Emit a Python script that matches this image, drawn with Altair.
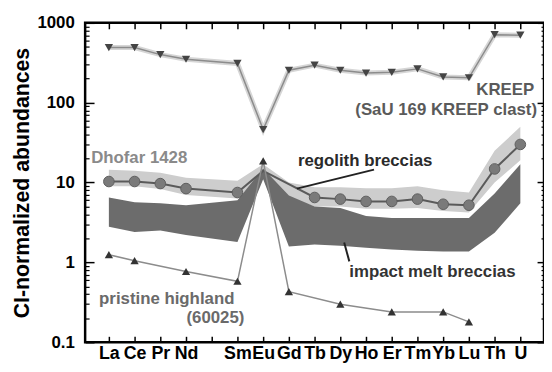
import altair as alt
import pandas as pd

# ---------------- data ----------------
elements = ["La", "Ce", "Pr", "Nd", "Pm", "Sm", "Eu", "Gd", "Tb", "Dy",
            "Ho", "Er", "Tm", "Yb", "Lu", "Th", "U"]
tick_labels = ["La", "Ce", "Pr", "Nd", "", "Sm", "Eu", "Gd", "Tb", "Dy",
               "Ho", "Er", "Tm", "Yb", "Lu", "Th", "U"]

kreep = [490, 490, 400, 350, None, 310, 46, 255, 295, 255, 235, 240, 265, 210, 205, 710, 700]
pristine = [1.25, 1.05, None, 0.77, None, 0.58, 18.7, 0.43, None, 0.30, None, 0.24, None, 0.24, 0.18, None, None]
dhofar = [10.3, 10.3, 9.7, 8.4, None, 7.5, 14.0, None, 6.5, 6.2, 5.8, 5.8, 6.2, 5.35, 5.2, 14.8, 30]
dhofar_no_marker = ["Eu"]

regolith_lo = [9.0, 9.0, 8.3, 7.0, None, 6.3, 13, 6.5, 5.0, 5.0, 4.7, 4.7, 4.8, 4.4, 4.2, 10, 19]
regolith_hi = [14.5, 14, 13.3, 11.5, None, 10.5, 17, 10, 8.7, 8.7, 8.5, 8.5, 9.0, 8.0, 7.5, 25, 50]
impact_lo = [2.8, 2.4, 2.5, 2.2, None, 1.8, 11, 1.58, 1.67, 1.62, 1.53, 1.45, 1.4, 1.37, 1.37, 2.35, 5.5]
impact_hi = [6.5, 5.65, 5.5, 5.2, None, 6.0, 15, 6.9, 5.0, 4.8, 3.8, 3.6, 3.6, 3.6, 3.6, 7.3, 17]

y_major = [0.1, 1, 10, 100, 1000]
y_minor = [m * d for d in [0.1, 1, 10, 100] for m in range(2, 10)]

ann_text = ["Dhofar 1428", "regolith breccias", "impact melt breccias", "KREEP",
            "(SaU 169 KREEP clast)", "pristine highland", "(60025)"]
ann_idx = [-0.69, 7.35, 12.58, 16.54, 16.65, -0.38, 5.27]
ann_val = [20.4, 18.7, 0.75, 142, 80, 0.35, 0.20]
ann_align = ["left", "left", "center", "right", "right", "left", "right"]
ann_color = ["#8a8a8a", "#2a2a2a", "#333333", "#5a5a5a", "#5a5a5a", "#6a6a6a", "#6a6a6a"]

ptr_idx = [7.31, 9.15]
ptr_val = [8.4, 1.77]
ptr_idx2 = [10.31, 9.35]
ptr_val2 = [14.5, 1.03]

# ---------------- frames ----------------
df = pd.DataFrame({
    "el": elements, "idx": list(range(len(elements))),
    "kreep": kreep, "pristine": pristine, "dhofar": dhofar,
    "rlo": regolith_lo, "rhi": regolith_hi, "ilo": impact_lo, "ihi": impact_hi,
})
ann = pd.DataFrame({"text": ann_text, "idx": ann_idx, "val": ann_val,
                    "align": ann_align, "color": ann_color})
ptr = pd.DataFrame({"idx": ptr_idx, "val": ptr_val, "idx2": ptr_idx2, "val2": ptr_val2})

FONT = "Liberation Sans"
xs = alt.Scale(domain=[-0.923, 16.92], nice=False, zero=False)
ys = alt.Scale(type="log", domain=[0.1, 1000], nice=False)

def X(field="idx", axis=None):
    return alt.X(f"{field}:Q", scale=xs, axis=axis)

def Y(field, axis=None):
    return alt.Y(f"{field}:Q", scale=ys, axis=axis)

label_expr = "[" + ",".join(f"'{t}'" for t in tick_labels) + "][datum.value]"

# ---------------- axes layers ----------------
axis_bottom = alt.Chart(df).mark_point(opacity=0).encode(
    x=X(axis=alt.Axis(orient="bottom", values=list(range(len(elements))), labelExpr=label_expr,
                      tickSize=6, offset=-6, domain=False, grid=False, title=None,
                      labelFont=FONT, labelFontWeight="bold", labelFontSize=18,
                      labelColor="black", labelPadding=2, tickColor="black", tickWidth=1.5,
                      labelFlush=False, labelOverlap=False)),
    y=Y("ihi"),
)
axis_top = alt.Chart(df).mark_point(opacity=0).encode(
    x=X(axis=alt.Axis(orient="top", values=list(range(len(elements))), labels=False,
                      tickSize=6, offset=-6, domain=False, grid=False, title=None,
                      tickColor="black", tickWidth=1.5)),
    y=Y("ihi"),
)
axis_left = alt.Chart(df).mark_point(opacity=0).encode(
    x=X(),
    y=Y("ihi", axis=alt.Axis(orient="left", values=y_major, labelExpr="toString(datum.value)",
                             tickSize=9, offset=-9, domain=False, grid=False,
                             title="CI-normalized abundances", titleFont=FONT,
                             titleFontWeight="bold", titleFontSize=21.5, titleColor="black",
                             titlePadding=3,
                             labelFont=FONT, labelFontWeight="bold", labelFontSize=17,
                             labelColor="black", labelPadding=11, tickColor="black",
                             tickWidth=1.5, labelFlush=False, labelOverlap=False)),
)
axis_left_minor = alt.Chart(df).mark_point(opacity=0).encode(
    x=X(),
    y=Y("ihi", axis=alt.Axis(orient="left", values=y_minor, labels=False, title=None,
                             tickSize=4, offset=-4, domain=False, grid=False,
                             tickColor="black", tickWidth=1.2)),
)
axis_right = alt.Chart(df).mark_point(opacity=0).encode(
    x=X(),
    y=Y("ihi", axis=alt.Axis(orient="right", values=y_major, labels=False, title=None,
                             tickSize=7, offset=-7, domain=False, grid=False,
                             tickColor="black", tickWidth=1.5)),
)
axis_right_minor = alt.Chart(df).mark_point(opacity=0).encode(
    x=X(),
    y=Y("ihi", axis=alt.Axis(orient="right", values=y_minor, labels=False, title=None,
                             tickSize=3, offset=-3, domain=False, grid=False,
                             tickColor="black", tickWidth=1.2)),
)

# ---------------- data layers ----------------
band_df = df.dropna(subset=["rlo"])
regolith_band = alt.Chart(band_df).mark_area(color="#cdcdcd", opacity=1).encode(
    x=X(), y=Y("rlo"), y2="rhi:Q")
impact_band = alt.Chart(band_df).mark_area(color="#6c6c6c", opacity=1).encode(
    x=X(), y=Y("ilo"), y2="ihi:Q")

kdf = df.dropna(subset=["kreep"])
kreep_halo = alt.Chart(kdf).mark_line(color="#d6d6d6", strokeWidth=5).encode(x=X(), y=Y("kreep"))
kreep_line = alt.Chart(kdf).mark_line(color="#8c8c8c", strokeWidth=1.5).encode(x=X(), y=Y("kreep"))
kreep_pts = alt.Chart(kdf).mark_point(shape="triangle-down", filled=True, color="#444444",
                                      size=70, opacity=1).encode(x=X(), y=Y("kreep"))

ddf = df.dropna(subset=["dhofar"])
dhofar_line = alt.Chart(ddf).mark_line(color="#5a5a5a", strokeWidth=2).encode(x=X(), y=Y("dhofar"))
dhofar_pts = alt.Chart(ddf[~ddf["el"].isin(dhofar_no_marker)]).mark_circle(
    color="#7a7a7a", size=115, opacity=1, stroke="#5e5e5e", strokeWidth=1).encode(
    x=X(), y=Y("dhofar"))

pdf_ = df.dropna(subset=["pristine"])
pristine_line = alt.Chart(pdf_).mark_line(color="#8c8c8c", strokeWidth=1.5).encode(
    x=X(), y=Y("pristine"))
pristine_pts = alt.Chart(pdf_).mark_point(shape="triangle-up", filled=True, color="#333333",
                                          size=70, opacity=1).encode(x=X(), y=Y("pristine"))

pointers = alt.Chart(ptr).mark_rule(color="#222222", strokeWidth=2).encode(
    x=X(), y=Y("val"), x2="idx2:Q", y2="val2:Q")

text_layers = [
    alt.Chart(ann[ann["align"] == al]).mark_text(
        font=FONT, fontWeight="bold", fontSize=17, align=al, baseline="middle").encode(
        x=X(), y=Y("val"), text="text:N",
        color=alt.Color("color:N", scale=None))
    for al in ["left", "center", "right"]
]

chart = alt.layer(
    axis_bottom, axis_top, axis_left, axis_left_minor, axis_right, axis_right_minor,
    regolith_band, impact_band,
    kreep_halo, kreep_line, kreep_pts,
    dhofar_line, dhofar_pts,
    pristine_line, pristine_pts,
    pointers, *text_layers,
).resolve_axis(x="independent", y="independent").properties(
    width=464, height=323,
    autosize=alt.AutoSizeParams(type="none"),
    padding={"left": 78, "top": 13, "right": 0, "bottom": 20},
    background="white",
).configure_view(stroke="black", strokeWidth=2.5)

chart.save("out.html", embed_options={"renderer": "svg", "actions": False})
